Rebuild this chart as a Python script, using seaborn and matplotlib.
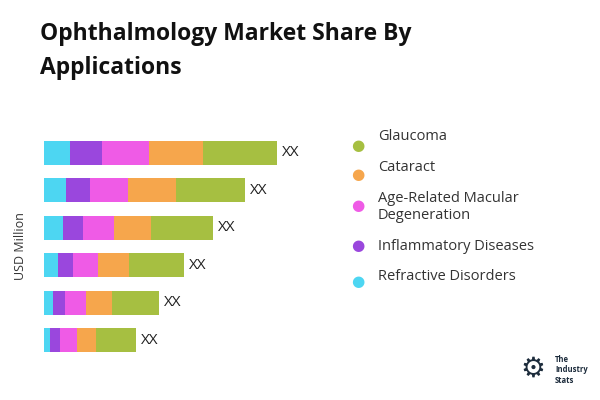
import matplotlib
matplotlib.use("Agg")
import matplotlib.pyplot as plt
import seaborn as sns
import pandas as pd
import numpy as np

years = ["2033", "2031", "2029", "2027", "2025", "2023"]
segments = ["Refractive Disorders", "Inflammatory Diseases", "Age-Related Macular\nDegeneration", "Cataract", "Glaucoma"]
refractive = [26, 22, 19, 14, 9, 6]
inflammatory = [32, 24, 20, 15, 12, 10]
amd = [47, 38, 31, 25, 21, 17]
cataract = [54, 48, 37, 31, 26, 19]
glaucoma = [74, 69, 62, 55, 47, 40]
colors = ["#4dd6f2", "#9a47dd", "#ef5be6", "#f6a64c", "#a6bf41"]

sns.set_style("white")
plt.rcParams['font.family'] = ['Open Sans', 'DejaVu Sans']
fig = plt.figure(figsize=(6, 4), dpi=100)
ax = fig.add_axes([44/600, 1-359/400, 300/600, 225/400])

vals = np.array([refractive, inflammatory, amd, cataract, glaucoma])
cum = vals.cumsum(axis=0)
for i in range(4, -1, -1):
    df = pd.DataFrame({"year": years, "v": cum[i]})
    sns.barplot(data=df, x="v", y="year", orient="h", color=colors[i], width=0.65,
                ax=ax, saturation=1, edgecolor="none")
for j, t in enumerate(cum[-1]):
    ax.text(t + 5, j, "XX", va="center", ha="left", fontsize=11, color="#222")
ax.set_xlim(0, 300)
ax.set_xticks([]); ax.set_yticks([])
ax.set_xlabel("")
ax.set_ylabel("USD Million", fontsize=9, color="#333", labelpad=12)
for s in ax.spines.values():
    s.set_visible(False)

fig.text(40/600, 1-51/400, "Ophthalmology Market Share By\nApplications", fontsize=16.5,
         fontweight="bold", va="center", ha="left", color="#111", linespacing=1.6)

circ_y = [147, 176, 207, 246, 283]
text_y = [137, 168, 207, 246, 276]
for name, c, cy, ty in zip(segments[::-1], colors[::-1], circ_y, text_y):
    fig.text(358/600, 1-cy/400, "●", color=c, fontsize=11, va="center", ha="center")
    fig.text(378/600, 1-ty/400, name, fontsize=10.5,
             color="#333", va="center", ha="left", linespacing=1.1)

fig.text(555/600, 1-370/400, "The\nIndustry\nStats", fontsize=5.5, fontweight="bold",
         color="#1d2c3c", va="center", ha="left")
fig.text(533/600, 1-370/400, "⚙", fontsize=20, color="#1d2c3c", va="center", ha="center")
fig.savefig("out.png", dpi=100)
